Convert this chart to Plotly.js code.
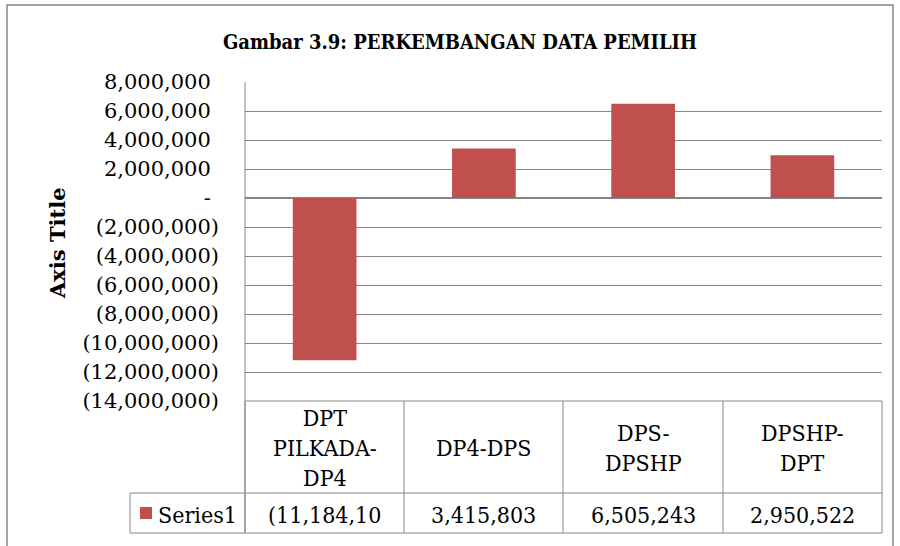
<!DOCTYPE html>
<html>
<head>
<meta charset="utf-8">
<script src="https://cdn.plot.ly/plotly-3.0.1.min.js"></script>
<style>html,body{margin:0;padding:0;background:#fff;}#chart{width:900px;height:546px;}</style>
</head>
<body>
<div id="chart"></div>
<script>
// ---- data ----
const categories = ["DPT PILKADA-DP4", "DP4-DPS", "DPS-DPSHP", "DPSHP-DPT"];
const categoryLabels = ["DPT<br>PILKADA-<br>DP4", "DP4-DPS", "DPS-<br>DPSHP", "DPSHP-<br>DPT"];
const seriesName = "Series1";
const seriesValues = [-11184100, 3415803, 6505243, 2950522];
const tickValues = [8000000, 6000000, 4000000, 2000000, 0, -2000000, -4000000, -6000000, -8000000, -10000000, -12000000, -14000000];

// ---- helpers ----
function acct(v) {
  if (v === 0) return "-";
  const s = Math.abs(v).toLocaleString("en-US");
  return v < 0 ? "(" + s + ")" : s;
}
function tickText(v) { // accounting alignment: positives keep room for ")"
  return v < 0 ? acct(v) : acct(v) + '<span style="color:rgba(0,0,0,0)">)</span>';
}
function cell(v) { // cell text clipped to column width
  const s = acct(v);
  return s.length > 10 ? s.slice(0, 10) : s;
}
const L = 245, R = 882, T = 82, B = 401;
const W = R - L, H = B - T;
const px = x => (x - L) / W;
const py = y => (B - y) / H;

const grey = "#868686";
const serif = "'DejaVu Serif', 'Liberation Serif', serif";
const cond = "'DejaVu Serif Condensed', 'DejaVu Serif', serif";
const red = "#C0504D";

const shapes = [];
function line(x0, y0, x1, y1, w) {
  shapes.push({type: "line", xref: "paper", yref: "paper", x0: px(x0), y0: py(y0), x1: px(x1), y1: py(y1),
    line: {color: grey, width: w || 1}, layer: "above"});
}
// outer chart border
shapes.push({type: "rect", xref: "paper", yref: "paper", x0: px(7), y0: py(5), x1: px(893), y1: py(560),
  line: {color: grey, width: 1.5}, layer: "below"});
// data table grid
const colEdges = [245, 404, 563, 723, 882];
line(245, 82, 245, 533);
colEdges.forEach(x => line(x, 401, x, 533));
line(245, 401, 882, 401);
line(130, 493, 882, 493);
line(130, 533, 882, 533);
line(130, 493, 130, 533);
// legend key
shapes.push({type: "rect", xref: "paper", yref: "paper", x0: px(140), y0: py(507), x1: px(152), y1: py(519),
  fillcolor: red, line: {width: 0}, layer: "above"});

const annotations = [];
categories.forEach((c, i) => {
  annotations.push({x: c, xref: "x", y: py(448), yref: "paper", text: categoryLabels[i], showarrow: false,
    font: {family: cond, size: 23, color: "#000"}, xanchor: "center", yanchor: "middle", align: "center"});
  annotations.push({x: c, xref: "x", y: py(515), yref: "paper", text: cell(seriesValues[i]), showarrow: false,
    font: {family: cond, size: 23, color: "#000"}, xanchor: "center", yanchor: "middle"});
});
annotations.push({x: px(156), xref: "paper", y: py(515), yref: "paper", text: seriesName, showarrow: false,
  font: {family: cond, size: 23, color: "#000"}, xanchor: "left", yanchor: "middle"});
annotations.push({x: px(57), xref: "paper", y: py(243), yref: "paper", text: "<b>Axis Title</b>", showarrow: false,
  textangle: -90, font: {family: serif, size: 21, color: "#000"}, xanchor: "center", yanchor: "middle"});

const trace = {
  type: "bar", x: categories, y: seriesValues, name: seriesName,
  marker: {color: red, line: {width: 0}}, width: 0.4
};

const layout = {
  width: 900, height: 546,
  margin: {l: L, r: 900 - R, t: T, b: 546 - B, pad: 0},
  paper_bgcolor: "#fff", plot_bgcolor: "#fff",
  showlegend: false,
  title: {text: "<b>Gambar 3.9: PERKEMBANGAN DATA PEMILIH</b>", x: 460 / 900, xref: "container", xanchor: "center",
    y: 1 - 42 / 546, yref: "container", yanchor: "middle",
    font: {family: cond, size: 20, color: "#000"}},
  xaxis: {type: "category", showticklabels: false, showgrid: false, zeroline: false, showline: false, ticks: "",
    range: [-0.5, 3.5]},
  yaxis: {range: [-14000000, 8000000], tickvals: tickValues, ticktext: tickValues.map(tickText),
    showgrid: true, gridcolor: grey, gridwidth: 1, zeroline: true, zerolinecolor: grey, zerolinewidth: 2,
    showline: false, ticks: "", ticklabelstandoff: 25,
    tickfont: {family: serif, size: 21, color: "#000"}},
  shapes: shapes,
  annotations: annotations,
  bargap: 0.6
};

Plotly.newPlot("chart", [trace], layout, {displayModeBar: false, staticPlot: true});
</script>
</body>
</html>
